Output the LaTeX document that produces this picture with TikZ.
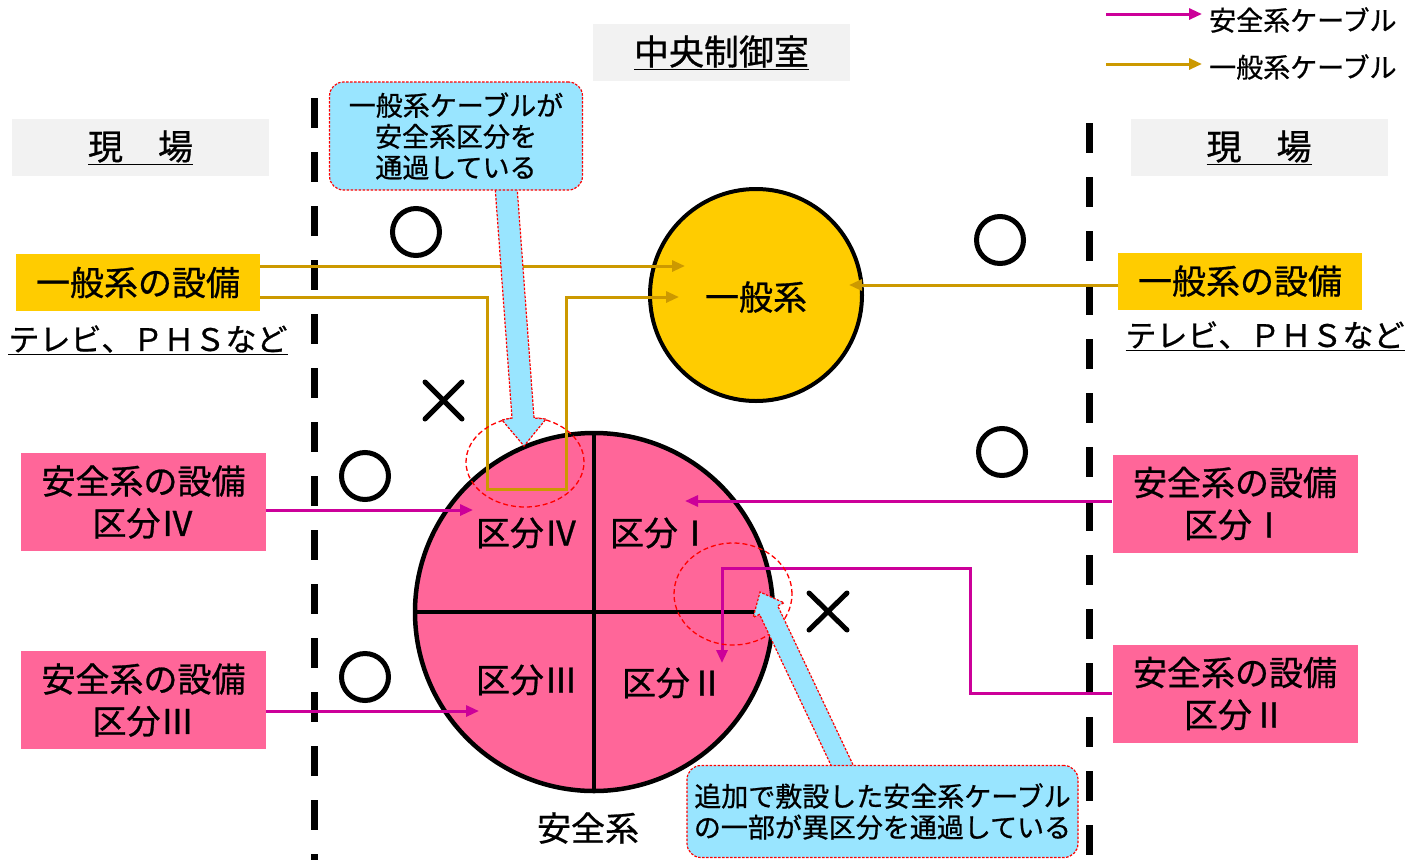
\documentclass[tikz,border=0pt]{standalone}
\usepackage{fontspec}
\setmainfont{Noto Sans CJK JP}[FakeBold=0.8]
\usetikzlibrary{arrows.meta}
\definecolor{pk}{HTML}{FF6699}
\definecolor{mg}{HTML}{CC0099}
\definecolor{gd}{HTML}{CC9900}
\definecolor{yl}{HTML}{FFCC00}
\definecolor{lb}{HTML}{99E5FF}
\definecolor{gy}{HTML}{F2F2F2}
\begin{document}
\begin{tikzpicture}[x=1pt,y=-1pt,
  big/.style={font=\fontsize{34}{41}\selectfont, inner sep=0pt},
  hdr/.style={fill=gy, minimum width=257pt, minimum height=57pt, inner sep=0pt, font=\fontsize{35}{40}\selectfont},
  ybox/.style={fill=yl, minimum width=244pt, minimum height=57pt, inner sep=0pt, font=\fontsize{34}{40}\selectfont},
  pbox/.style={fill=pk, minimum width=245pt, minimum height=98pt, inner sep=0pt, align=center, font=\fontsize{34}{42}\selectfont},
  note/.style={font=\fontsize{31}{36}\selectfont, inner sep=0pt},
  legtxt/.style={font=\fontsize{27}{30}\selectfont, inner sep=0pt, anchor=west},
  callout/.style={fill=lb, draw=red, dash pattern=on 2.5pt off 1.5pt, line width=1.2pt, rounded corners=14pt, align=center, inner sep=0pt, font=\fontsize{27}{31}\selectfont},
  blockarrow/.style={fill=lb, draw=red, dash pattern=on 2.5pt off 1.5pt, line width=1.2pt},
  scable/.style={draw=mg, line width=3pt, -{Triangle[length=13pt,width=11pt]}},
  gcable/.style={draw=gd, line width=3pt, -{Triangle[length=13pt,width=11pt]}},
  okmark/.style={draw, line width=5pt},
  ngmark/.style={draw, line width=5pt, line cap=round},
  redring/.style={draw=red, dash pattern=on 5pt off 3pt, line width=1.3pt},
  divider/.style={line width=7pt, dash pattern=on 30pt off 24pt}
]
\useasboundingbox (0,0) rectangle (1421,860);

% divider lines
\draw[divider] (314,98) -- (314,860);
\draw[divider] (1089,123) -- (1089,860);

% headers
\node[hdr] (hdrC) at (721.5,52.5) {\underline{中央制御室}};
\node[hdr] (hdrL) at (140.5,147.5) {\underline{現　場}};
\node[hdr] (hdrR) at (1259,147.5) {\underline{現　場}};

% legend
\node[legtxt] (leg1) at (1209,20) {安全系ケーブル};
\node[legtxt] (leg2) at (1209,67) {一般系ケーブル};
\coordinate (ls0) at (1106,14);
\coordinate (lg0) at (1106,64);
\draw[scable] (ls0) -- ([xshift=-7pt]ls0 -| leg1.west);
\draw[gcable] (lg0) -- ([xshift=-7pt]lg0 -| leg2.west);

% general equipment boxes
\node[ybox] (genL) at (138,282.5) {\raisebox{-2pt}{一般系の設備}};
\node[ybox] (genR) at (1240,281) {\raisebox{-2pt}{一般系の設備}};
\node[note] (tvL) at (148,340) {\underline{テレビ、ＰＨＳなど}};
\node[note] (tvR) at (1265,336) {\underline{テレビ、ＰＨＳなど}};

% safety equipment boxes
\node[pbox] (s4) at (143.5,502) {\raisebox{-3pt}{安全系の設備}\\\raisebox{-3pt}{区分Ⅳ}};
\node[pbox] (s3) at (143.5,700) {\raisebox{-3pt}{安全系の設備}\\\raisebox{-3pt}{区分Ⅲ}};
\node[pbox] (s1) at (1235,503.5) {\raisebox{-3pt}{安全系の設備}\\\raisebox{-3pt}{区分Ⅰ}};
\node[pbox] (s2) at (1235,693.5) {\raisebox{-3pt}{安全系の設備}\\\raisebox{-3pt}{区分Ⅱ}};

% general system circle
\node[circle, fill=yl, draw, line width=4pt, minimum size=212pt, inner sep=0pt] (gen) at (756,295) {};
\node[big] (genlbl) at (756,297) {一般系};

% safety system circle
\fill[pk] (594,612) circle[radius=179pt];
\coordinate (sc) at (594,612);
\coordinate (scN) at (594,433);
\coordinate (scS) at (594,791);
\coordinate (scW) at (415,612);
\coordinate (scE) at (773,612);
\draw[line width=3.5pt] (scN) -- (scS);
\draw[line width=3.5pt] (scW) -- (scE);
\node[draw, circle, line width=4.5pt, minimum size=358pt, inner sep=0pt] (safe) at (sc) {};
\node[big] (q4) at (527,533) {区分Ⅳ};
\node[big] (q1) at (661,533) {区分Ⅰ};
\node[big] (q3) at (527,680) {区分Ⅲ};
\node[big] (q2) at (673,683) {区分Ⅱ};
\node[big] (safelbl) at (588,828) {安全系};

% general cables
\coordinate (tG1) at (685,266);
\coordinate (c1) at (487,297);
\coordinate (c2) at (487,489);
\coordinate (c3) at (566,489);
\coordinate (c4) at (566,297);
\coordinate (tG2) at (679,297);
\coordinate (tG3) at (849,285);
\draw[gcable] (genL.east |- tG1) -- (tG1);
\draw[gcable, line join=miter] (genL.east |- c1) -- (c1) -- (c2) -- (c3) -- (c4) -- (tG2);
\draw[gcable] (genR.west |- tG3) -- (tG3);

% safety cables
\coordinate (tS4) at (473,510);
\coordinate (tS3) at (479,711);
\coordinate (tS1) at (685,501);
\coordinate (m1) at (970,693);
\coordinate (m2) at (970,568);
\coordinate (m3) at (722,568);
\coordinate (tS2) at (722,663);
\draw[scable] (s4.east |- tS4) -- (tS4);
\draw[scable] (s3.east |- tS3) -- (tS3);
\draw[scable] (s1.west |- tS1) -- (tS1);
\draw[scable, line join=miter] (s2.west |- m1) -- (m1) -- (m2) -- (m3) -- (tS2);

% red dashed rings
\draw[redring] (525,462) ellipse[x radius=59pt, y radius=45pt];
\draw[redring] (733,594) ellipse[x radius=59pt, y radius=51pt];

% ok / ng marks
\draw[okmark] (416,232) circle[radius=23.5pt];
\draw[okmark] (1000,240) circle[radius=23.5pt];
\draw[okmark] (365,476) circle[radius=23.5pt];
\draw[okmark] (365,677) circle[radius=23.5pt];
\draw[okmark] (1002,452) circle[radius=23.5pt];
\draw[ngmark] (425,382) -- (462,419) (462,382) -- (425,419);
\draw[ngmark] (809,593) -- (847,630) (847,593) -- (809,630);

% block arrows
\draw[blockarrow] (495,186) -- (512,418) -- (502,420) -- (524,446) -- (546,419) -- (534,418) -- (517,186) -- cycle;
\draw[blockarrow] (833.3,770) -- (759.5,614.4) -- (753.2,617.4) -- (760,592) -- (784,602.8) -- (777.7,605.8) -- (855.5,770) -- cycle;

% callouts
\node[callout, minimum width=253pt, minimum height=108pt] (note1) at (456,136) {一般系ケーブルが\\安全系区分を\\通過している};
\node[callout, minimum width=391pt, minimum height=92pt] (note2) at (882.5,811.5) {追加で敷設した安全系ケーブル\\の一部が異区分を通過している};
\end{tikzpicture}
\end{document}
